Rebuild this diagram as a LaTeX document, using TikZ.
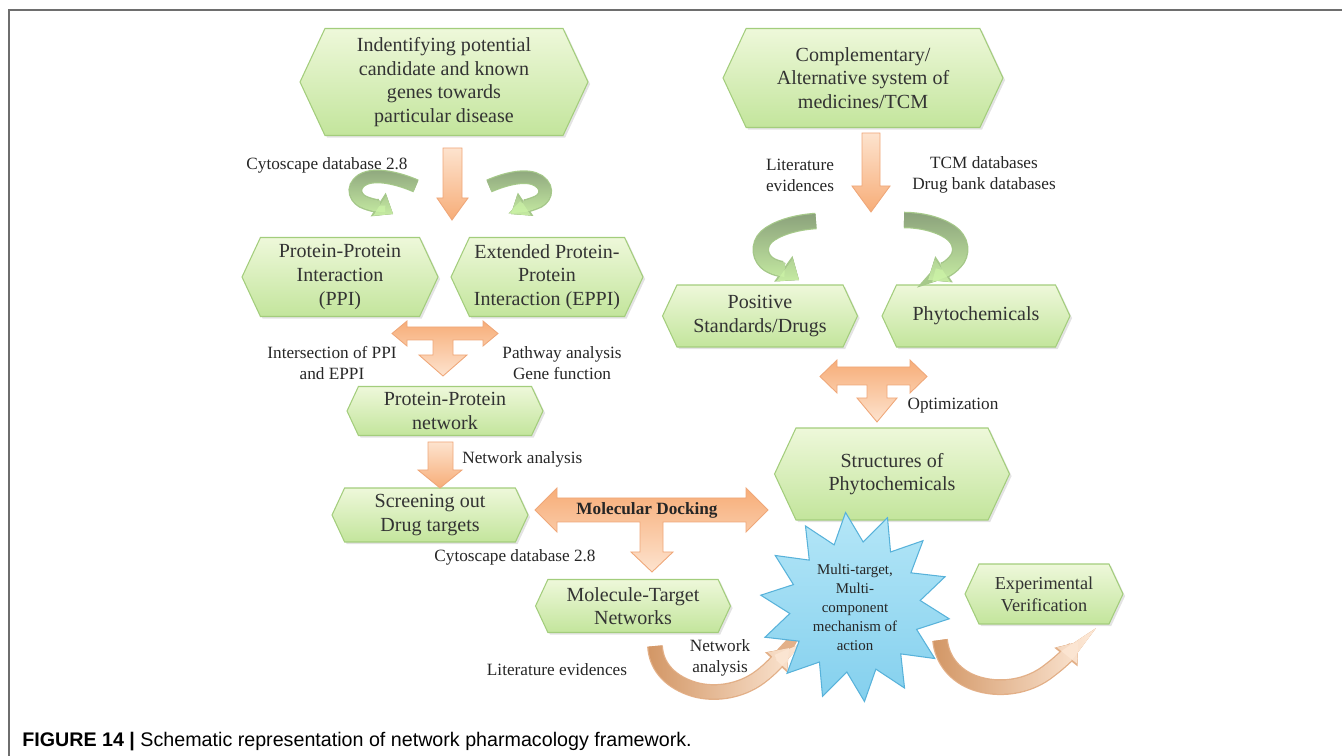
\documentclass[tikz,border=0pt]{standalone}
\usepackage{fontspec}
\setmainfont{Liberation Serif}
\setsansfont{Liberation Sans}
\usetikzlibrary{shapes.symbols,shapes.geometric,shadows,arrows.meta,fadings}

\definecolor{hextop}{HTML}{EEF8DA}
\definecolor{hexbot}{HTML}{C3E59C}
\definecolor{hexline}{HTML}{A3CD7C}
\definecolor{orsat}{HTML}{F7AD78}
\definecolor{orlight}{HTML}{FDE3CE}
\definecolor{orline}{HTML}{EFA779}
\definecolor{startop}{HTML}{B4E6F7}
\definecolor{starbot}{HTML}{84D0EE}
\definecolor{starline}{HTML}{58B2DA}
\definecolor{frameg}{HTML}{6E6E6E}
% curved arrow colours, tail to head
\definecolor{gA}{HTML}{8CA37C}
\definecolor{gC}{HTML}{CBF2A6}
\definecolor{gline}{HTML}{A6C98A}
\definecolor{oA}{HTML}{D39766}
\definecolor{oC}{HTML}{FCE6D3}
\definecolor{oline}{HTML}{E3B088}

\tikzfading[name=fadedown, top color=transparent!100, bottom color=transparent!0]
\tikzfading[name=faderight, left color=transparent!100, right color=transparent!0]

\newcommand{\hexfont}{\fontsize{11.4}{13.4}\selectfont}
\newcommand{\labfont}{\fontsize{9.8}{12}\selectfont}

\tikzset{
  hexbox/.style={signal, signal to=west and east, signal pointer angle=130,
    draw=hexline, line width=0.6pt, top color=hextop, bottom color=hexbot,
    align=center, inner xsep=2pt, inner ysep=0pt, font=\hexfont, text=black!80,
    drop shadow={opacity=0.22, shadow xshift=1.2pt, shadow yshift=-1.2pt}},
  lab/.style={font=\labfont, align=center, text=black!85, inner sep=0pt},
  downarrow/.style={draw=orline, line width=0.5pt, top color=orlight, bottom color=orsat},
  tarrow/.style={draw=orline, line width=0.5pt, top color=orsat, bottom color=orlight},
  % small green curls
  gout/.style={gline, line width=7.8pt, -{Triangle[width=16pt,length=10pt,line width=0pt]}},
  gtail/.style={gA, line width=6.4pt, -{Triangle[width=14pt,length=9pt,line width=0pt]}},
  ghead/.style={gtail, gC, path fading=fadedown},
  % big green curls
  Gout/.style={gline, line width=9.4pt, -{Triangle[width=18pt,length=11pt,line width=0pt]}},
  Gtail/.style={gA, line width=8pt, -{Triangle[width=16pt,length=10pt,line width=0pt]}},
  Ghead/.style={Gtail, gC, path fading=fadedown},
  % orange curls
  oout/.style={oline, line width=9pt, -{Triangle[width=17pt,length=11pt,line width=0pt]}},
  otail/.style={oA, line width=7.6pt, -{Triangle[width=15pt,length=10pt,line width=0pt]}},
  ohead/.style={otail, oC, path fading=faderight},
}

\begin{document}
\begin{tikzpicture}[x=0.02cm, y=-0.02cm]
\useasboundingbox (0,0) rectangle (1342,756);
\draw[frameg, line width=1.1pt] (9,756) -- (9,10) -- (1342,10);

% left column
\node[hexbox, minimum width=5.76cm, minimum height=2.14cm] (gen) at (444,82)
  {Indentifying potential\\candidate and known\\genes towards\\particular disease};
\node[hexbox, minimum width=3.92cm, minimum height=1.58cm] (ppi) at (340,277)
  {Protein-Protein\\Interaction\\(PPI)};
\node[hexbox, minimum width=3.84cm, minimum height=1.58cm] (eppi) at (547,277)
  {Extended Protein-\\Protein\\Interaction (EPPI)};
\node[hexbox, minimum width=3.92cm, minimum height=0.98cm] (ppn) at (445,411)
  {Protein-Protein\\network};
\node[hexbox, minimum width=3.92cm, minimum height=1.08cm] (scr) at (430,515)
  {Screening out\\Drug targets};
\node[hexbox, minimum width=3.9cm, minimum height=1.06cm] (mtn) at (633,606)
  {Molecule-Target\\Networks};

% right column
\node[hexbox, minimum width=5.6cm, minimum height=1.98cm] (tcm) at (863,78)
  {Complementary/\\Alternative system of\\medicines/TCM};
\node[hexbox, minimum width=3.9cm, minimum height=1.24cm] (pos) at (760,316)
  {Positive\\Standards/Drugs};
\node[hexbox, minimum width=3.76cm, minimum height=1.24cm] (phy) at (976,316)
  {Phytochemicals};
\node[hexbox, minimum width=4.7cm, minimum height=1.84cm] (str) at (892,474)
  {Structures of\\Phytochemicals};
\node[hexbox, minimum width=3.16cm, minimum height=1.2cm, font=\fontsize{10.4}{12.4}\selectfont] (exv) at (1044,594)
  {Experimental\\Verification};

% block arrows
\draw[downarrow] (443,148) -- (462,148) -- (462,198) -- (468,198) -- (452,220) -- (437,198) -- (443,198) -- cycle;
\draw[downarrow] (862,133) -- (880,133) -- (880,186) -- (890,186) -- (871,212) -- (852,186) -- (862,186) -- cycle;
\draw[downarrow] (428,442) -- (453,442) -- (453,470) -- (462,470) -- (440,488) -- (418,470) -- (428,470) -- cycle;
\draw[tarrow] (392,333.5) -- (407,321) -- (407,327) -- (483,327) -- (483,321) -- (498,333.5) -- (483,346) -- (483,340)
  -- (453,340) -- (453,355) -- (467,355) -- (443,376) -- (419,355) -- (433,355) -- (433,340) -- (407,340) -- (407,346) -- cycle;
\draw[tarrow] (820,376.5) -- (837,360) -- (837,367) -- (910,367) -- (910,360) -- (927,376.5) -- (910,393) -- (910,385)
  -- (887,385) -- (887,398) -- (897,398) -- (877,422) -- (857,398) -- (867,398) -- (867,385) -- (837,385) -- (837,393) -- cycle;
\draw[tarrow] (535,510) -- (557,488) -- (557,498) -- (746,498) -- (746,488) -- (768,510) -- (746,532) -- (746,522)
  -- (663,522) -- (663,552) -- (673,552) -- (652,572) -- (631,552) -- (640,552) -- (640,522) -- (557,522) -- (557,532) -- cycle;
\node[font=\bfseries\labfont, text=black!85, inner sep=0pt] (dock) at (647,510) {Molecular Docking};

% curved green arrows
\foreach \st in {gout,gtail,ghead}
  \draw[\st] (416,186) .. controls (400,179) and (375,172) .. (362,180)
    .. controls (350,188) and (356,200) .. (366,203) .. controls (374,206) and (382,207) .. (393,214);
\foreach \st in {gout,gtail,ghead}
  \draw[\st] (489,186) .. controls (505,179) and (527,173) .. (539,181)
    .. controls (550,189) and (545,200) .. (535,203) .. controls (527,206) and (520,208) .. (511,214);
\foreach \st in {Gout,Gtail,Ghead}
  \draw[\st] (816,221) .. controls (800,222) and (782,226) .. (770,234)
    .. controls (759,241) and (758,254) .. (766,262) .. controls (772,268) and (785,270) .. (799,280);
\foreach \st in {Gout,Gtail,Ghead}
  \draw[\st] (904,220) .. controls (920,220) and (938,224) .. (950,232)
    .. controls (962,240) and (963,254) .. (955,262) .. controls (948,270) and (940,272) .. (928,280);

% curved orange arrows
\foreach \st in {oout,otail,ohead}
  \draw[\st] (655,646) .. controls (656,665) and (668,680) .. (690,688)
    .. controls (712,696) and (740,692) .. (760,677) .. controls (772,668) and (780,658) .. (789,648);
\foreach \st in {oout,otail,ohead}
  \draw[\st] (940,640) .. controls (942,660) and (955,676) .. (975,683)
    .. controls (998,691) and (1028,688) .. (1050,670) .. controls (1062,661) and (1070,652) .. (1078,642);

% star
\node[star, star points=14, star point ratio=1.45, shape border rotate=-20, draw=starline, line width=0.6pt,
  top color=startop, bottom color=starbot, align=center, inner sep=0pt, minimum size=3.8cm,
  font=\fontsize{8.5}{10.8}\selectfont, text=black!85] (moa) at (855,607)
  {Multi-target,\\Multi-\\component\\mechanism of\\action};

% labels
\node[lab] (cyto1) at (327,165) {Cytoscape database 2.8};
\node[lab] (lit1) at (800,175) {Literature\\evidences};
\node[lab] (tcmdb) at (984,175) {TCM databases\\Drug bank databases};
\node[lab] (inter) at (332,363) {Intersection of PPI\\and EPPI};
\node[lab] (path) at (562,363) {Pathway analysis\\Gene function};
\node[lab, anchor=west] (netan1) at (462,459) {Network analysis};
\node[lab] (cyto2) at (515,557) {Cytoscape database 2.8};
\node[lab] (lit2) at (557,670) {Literature evidences};
\node[lab] (netan2) at (720,658) {Network\\analysis};
\node[lab] (optim) at (953,406) {Optimization};

% caption
\node[anchor=base west, inner sep=0pt, font=\sffamily\fontsize{11.2}{13}\selectfont] (cap) at (22,746)
  {\textbf{FIGURE 14 |} Schematic representation of network pharmacology framework.};
\end{tikzpicture}
\end{document}
